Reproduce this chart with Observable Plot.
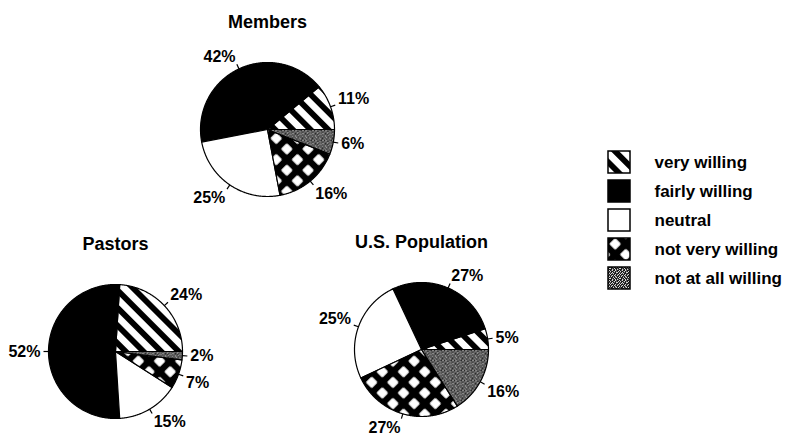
<!DOCTYPE html>
<html>
<head>
<meta charset="utf-8">
<script src="https://cdn.jsdelivr.net/npm/d3@7"></script>
<script src="https://cdn.jsdelivr.net/npm/@observablehq/plot@0.6"></script>
<style>
  body { margin: 0; background: #fff; }
</style>
</head>
<body>
<div id="chart"></div>
<script>
// Willingness categories, in the order the slices run counterclockwise from 3 o'clock
const categories = ["very willing", "fairly willing", "neutral", "not very willing", "not at all willing"];
const groups = ["Members", "Pastors", "U.S. Population"];

// Percent of each group per category
const membersPct = [11, 42, 25, 16, 6];
const pastorsPct = [24, 52, 15, 7, 2];
const usPopulationPct = [5, 27, 25, 27, 16];

// ---- layout (pixels) ----
const W = 787, H = 439, R = 67;
const centers = {
  "Members": [267, 129],
  "Pastors": [115, 351],
  "U.S. Population": [421, 349]
};
const fills = ["url(#stripes)", "#000", "#fff", "url(#lattice)", "url(#stipple)"];
const FONT = "'Liberation Sans', Arial, Helvetica, sans-serif";

const seriesByGroup = {
  "Members": membersPct,
  "Pastors": pastorsPct,
  "U.S. Population": usPopulationPct
};

// slice angles (radians, counterclockwise from the positive x axis)
const slices = [];
for (const g of groups) {
  const vals = seriesByGroup[g];
  const total = d3.sum(vals);
  let acc = 0;
  vals.forEach((v, i) => {
    const a0 = (acc / total) * 2 * Math.PI;
    acc += v;
    const a1 = (acc / total) * 2 * Math.PI;
    slices.push({group: g, category: categories[i], value: v, a0, a1, mid: (a0 + a1) / 2});
  });
}

const polar = (g, r, a) => [centers[g][0] + r * Math.cos(a), centers[g][1] - r * Math.sin(a)];

// each slice as a closed polygon: centre -> arc -> centre
const outline = slices.flatMap((s) => {
  const key = s.group + "|" + s.category;
  const n = Math.max(2, Math.ceil((s.a1 - s.a0) / (Math.PI / 360)));
  const pts = [centers[s.group].slice()];
  for (let k = 0; k <= n; k++) pts.push(polar(s.group, R, s.a0 + ((s.a1 - s.a0) * k) / n));
  pts.push(centers[s.group].slice());
  return pts.map(([x, y]) => ({key, category: s.category, x, y}));
});

// leader ticks and percent labels
const ticks = slices.map((s) => {
  const [x1, y1] = polar(s.group, R, s.mid);
  const [x2, y2] = polar(s.group, R + 5, s.mid);
  return {x1, y1, x2, y2};
});
const labels = slices.map((s) => {
  const [x, y] = polar(s.group, R + 8, s.mid);
  const c = Math.cos(s.mid), sn = Math.sin(s.mid);
  return {
    x, y, text: s.value + "%",
    ta: c > 0.2 ? "start" : c < -0.2 ? "end" : "middle",
    la: sn > 0.3 ? "bottom" : sn < -0.3 ? "top" : "middle"
  };
});
const labelMarks = [];
for (const ta of ["start", "middle", "end"]) {
  for (const la of ["top", "middle", "bottom"]) {
    const sub = labels.filter((d) => d.ta === ta && d.la === la);
    if (sub.length) labelMarks.push(Plot.text(sub, {
      x: "x", y: "y", text: "text", textAnchor: ta, lineAnchor: la,
      fontSize: 16, fontWeight: "bold", fill: "black"
    }));
  }
}

const titles = groups.map((g) => ({text: g, x: centers[g][0], y: centers[g][1] - 102}));
const legendRows = categories.map((c, i) => ({category: c, y: 162 + 29 * i}));

const chart = Plot.plot({
  width: W,
  height: H,
  margin: 0,
  style: {fontFamily: FONT, background: "#fff", overflow: "visible"},
  x: {domain: [0, W], range: [0, W], axis: null},
  y: {domain: [0, H], range: [0, H], axis: null},
  color: {type: "ordinal", domain: categories, range: fills},
  marks: [
    Plot.line(outline, {
      x: "x", y: "y", z: "key", fill: "category",
      stroke: "black", strokeWidth: 1.2, strokeLinejoin: "round", curve: "linear"
    }),
    Plot.link(ticks, {x1: "x1", y1: "y1", x2: "x2", y2: "y2", stroke: "black", strokeWidth: 1.2}),
    ...labelMarks,
    Plot.text(titles, {
      x: "x", y: "y", text: "text", lineAnchor: "bottom",
      fontSize: 18, fontWeight: "bold", fill: "black"
    }),
    Plot.rect(legendRows, {
      x1: () => 608, x2: () => 630,
      y1: (d) => d.y - 11, y2: (d) => d.y + 11,
      fill: "category", stroke: "black", strokeWidth: 1.5
    }),
    Plot.text(legendRows, {
      x: () => 654, y: "y", text: "category", textAnchor: "start", lineAnchor: "middle",
      fontSize: 17, fontWeight: "bold", fill: "black"
    })
  ]
});

// fill patterns referenced by the colour range
const svgEl = chart.tagName.toLowerCase() === "svg" ? chart : chart.querySelector("svg");
const defs = d3.select(svgEl).insert("defs", ":first-child");

const stripes = defs.append("pattern")
  .attr("id", "stripes").attr("patternUnits", "userSpaceOnUse")
  .attr("width", 12.5).attr("height", 12.5)
  .attr("patternTransform", "rotate(-45)");
stripes.append("rect").attr("width", 12.5).attr("height", 12.5).attr("fill", "#fff");
stripes.append("rect").attr("width", 5.8).attr("height", 12.5).attr("fill", "#000");

const lattice = defs.append("pattern")
  .attr("id", "lattice").attr("patternUnits", "userSpaceOnUse")
  .attr("width", 15).attr("height", 15)
  .attr("patternTransform", "rotate(45)");
lattice.append("rect").attr("width", 15).attr("height", 15).attr("fill", "#000");
lattice.append("rect").attr("x", 3.2).attr("y", 3.2).attr("width", 8.6).attr("height", 8.6)
  .attr("rx", 1.5).attr("fill", "#fff");

// fine grain for the grey stipple: 0 = light, 1 = dark, 2 = mid
const stippleBits = [
  "1201102110",
  "0112012101",
  "2101210012",
  "1020112110",
  "0112101201",
  "1201021012",
  "1012102110",
  "2110120101",
  "0121011210",
  "1102101021"
];
const stipple = defs.append("pattern")
  .attr("id", "stipple").attr("patternUnits", "userSpaceOnUse")
  .attr("width", 10).attr("height", 10);
stipple.append("rect").attr("width", 10).attr("height", 10).attr("fill", "#d4d4d4");
stippleBits.forEach((row, j) => {
  [...row].forEach((b, i) => {
    if (b !== "0") stipple.append("rect").attr("x", i).attr("y", j)
      .attr("width", 1).attr("height", 1).attr("fill", b === "1" ? "#1a1a1a" : "#5a5a5a");
  });
});

document.getElementById("chart").appendChild(chart);
</script>
</body>
</html>
